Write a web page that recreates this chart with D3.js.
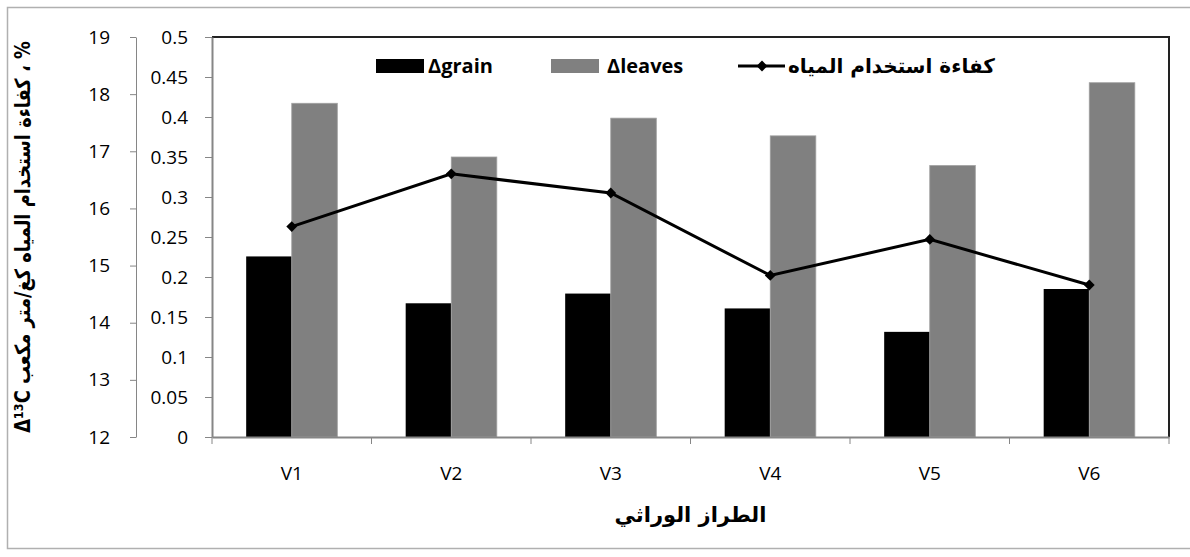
<!DOCTYPE html>
<html>
<head>
<meta charset="utf-8">
<script src="https://cdn.jsdelivr.net/npm/d3@7"></script>
<style>
  body { margin: 0; background: #fff; }
  svg text { font-family: "Open Sans", "DejaVu Sans", sans-serif; fill: #000; }
  .axis path, .axis line { stroke: #868686; }
</style>
</head>
<body>
<div id="container"></div>
<script>
// values
const categories = ["V1", "V2", "V3", "V4", "V5", "V6"];
const grainValues = [15.16, 14.34, 14.51, 14.25, 13.84, 14.59];   // Δgrain (outer axis)
const leavesValues = [17.84, 16.90, 17.58, 17.27, 16.75, 18.20];  // Δleaves (outer axis)
const wueValues = [0.263, 0.329, 0.305, 0.202, 0.247, 0.190];     // water use efficiency (inner axis)
const outerTicks = [12, 13, 14, 15, 16, 17, 18, 19];
const innerTicks = [0, 0.05, 0.1, 0.15, 0.2, 0.25, 0.3, 0.35, 0.4, 0.45, 0.5];
const seriesNames = ["Δgrain", "Δleaves", "كفاءة استخدام المياه"];

const width = 1190, height = 557;
const plot = {left: 212, right: 1169, top: 37, bottom: 437};

const svg = d3.select("#container").append("svg")
  .attr("width", width).attr("height", height);

// outer frame
svg.append("rect")
  .attr("x", 7.5).attr("y", 7.5)
  .attr("width", 1200).attr("height", 541)
  .attr("fill", "none").attr("stroke", "#b0b0b0").attr("stroke-width", 1.5);

// scales
const x = d3.scaleBand().domain(categories).range([plot.left, plot.right]);
const xSub = d3.scaleBand().domain(["grain", "leaves"])
  .range([0, x.bandwidth()]).paddingOuter(0.75);
const yOuter = d3.scaleLinear().domain([12, 19]).range([plot.bottom, plot.top]);
const yInner = d3.scaleLinear().domain([0, 0.5]).range([plot.bottom, plot.top]);

// plot frame (top + right)
svg.append("path")
  .attr("d", `M${plot.left},${plot.top}H${plot.right}V${plot.bottom}`)
  .attr("fill", "none").attr("stroke", "#222").attr("stroke-width", 2);

// bars
const rows = categories.map((c, i) => ({cat: c, grain: grainValues[i], leaves: leavesValues[i], wue: wueValues[i]}));

svg.append("g").selectAll("rect.grain")
  .data(rows).join("rect")
  .attr("class", "grain")
  .attr("x", d => x(d.cat) + xSub("grain"))
  .attr("width", xSub.bandwidth())
  .attr("y", d => yOuter(d.grain))
  .attr("height", d => yOuter(12) - yOuter(d.grain))
  .attr("fill", "#000");

svg.append("g").selectAll("rect.leaves")
  .data(rows).join("rect")
  .attr("class", "leaves")
  .attr("x", d => x(d.cat) + xSub("leaves"))
  .attr("width", xSub.bandwidth())
  .attr("y", d => yOuter(d.leaves))
  .attr("height", d => yOuter(12) - yOuter(d.leaves))
  .attr("fill", "#808080")
  .attr("stroke", "#a0a0a0").attr("stroke-width", 0.8);

// axes
const outerAxis = d3.axisLeft(yOuter).tickValues(outerTicks)
  .tickSize(6).tickSizeOuter(0).tickPadding(20)
  .tickFormat(d3.format("d"));
svg.append("g").attr("class", "axis")
  .attr("transform", "translate(136,0)")
  .call(outerAxis)
  .call(g => g.selectAll("text").style("font-size", "19px"));

const innerAxis = d3.axisLeft(yInner).tickValues(innerTicks)
  .tickSize(7).tickSizeOuter(0).tickPadding(17)
  .tickFormat(d => String(+d.toFixed(2)));
svg.append("g").attr("class", "axis")
  .attr("transform", `translate(${plot.left},0)`)
  .call(innerAxis)
  .call(g => g.select(".domain").attr("stroke-width", 2))
  .call(g => g.selectAll("text").style("font-size", "19px"));

const xAxis = d3.axisBottom(x).tickSize(0).tickPadding(30);
const xg = svg.append("g").attr("class", "axis")
  .attr("transform", `translate(0,${plot.bottom})`)
  .call(xAxis)
  .call(g => g.select(".domain").attr("stroke-width", 2))
  .call(g => g.selectAll("text").style("font-size", "19px"));
// boundary ticks between categories
xg.selectAll("line.bound")
  .data(categories.map(c => x(c)).concat([x.range()[1]]))
  .join("line").attr("class", "bound")
  .attr("x1", d => d).attr("x2", d => d)
  .attr("y1", 0).attr("y2", 7)
  .attr("stroke", "#868686");

// line series
const line = d3.line()
  .x(d => x(d.cat) + x.bandwidth() / 2)
  .y(d => yInner(d.wue));
svg.append("path").datum(rows)
  .attr("d", line)
  .attr("fill", "none").attr("stroke", "#000").attr("stroke-width", 3);

const diamond = d3.symbol().type(d3.symbolDiamond2).size(75);
svg.append("g").selectAll("path")
  .data(rows).join("path")
  .attr("transform", d => `translate(${x(d.cat) + x.bandwidth() / 2},${yInner(d.wue)})`)
  .attr("d", diamond)
  .attr("fill", "#000");

// legend
const lg = svg.append("g").style("font-weight", "bold").style("font-size", "20px");
lg.append("rect").attr("x", 376).attr("y", 59).attr("width", 48).attr("height", 14).attr("fill", "#000");
lg.append("text").attr("x", 428).attr("y", 73).text(seriesNames[0]);
lg.append("rect").attr("x", 551).attr("y", 59).attr("width", 48).attr("height", 14).attr("fill", "#808080");
lg.append("text").attr("x", 607).attr("y", 73).text(seriesNames[1]);
lg.append("line").attr("x1", 738).attr("x2", 785).attr("y1", 66).attr("y2", 66)
  .attr("stroke", "#000").attr("stroke-width", 3);
lg.append("path").attr("transform", "translate(762,66)").attr("d", diamond).attr("fill", "#000");
lg.append("text").attr("x", 788).attr("y", 73)
  .style("font-family", "'DejaVu Sans', sans-serif")
  .text(seriesNames[2]);

// axis titles
svg.append("text")
  .attr("transform", `translate(30,${(plot.top + plot.bottom) / 2}) rotate(-90) scale(0.85,1)`)
  .attr("text-anchor", "middle")
  .attr("direction", "rtl")
  .style("font-weight", "bold").style("font-size", "21px")
  .style("font-family", "'DejaVu Sans', sans-serif")
  .text("% ، كفاءة استخدام المياه كغ/متر مكعب Δ¹³C");

svg.append("text")
  .attr("x", (plot.left + plot.right) / 2)
  .attr("y", 522)
  .attr("text-anchor", "middle")
  .style("font-weight", "bold").style("font-size", "21px")
  .style("font-family", "'DejaVu Sans', sans-serif")
  .text("الطراز الوراثي");
</script>
</body>
</html>
